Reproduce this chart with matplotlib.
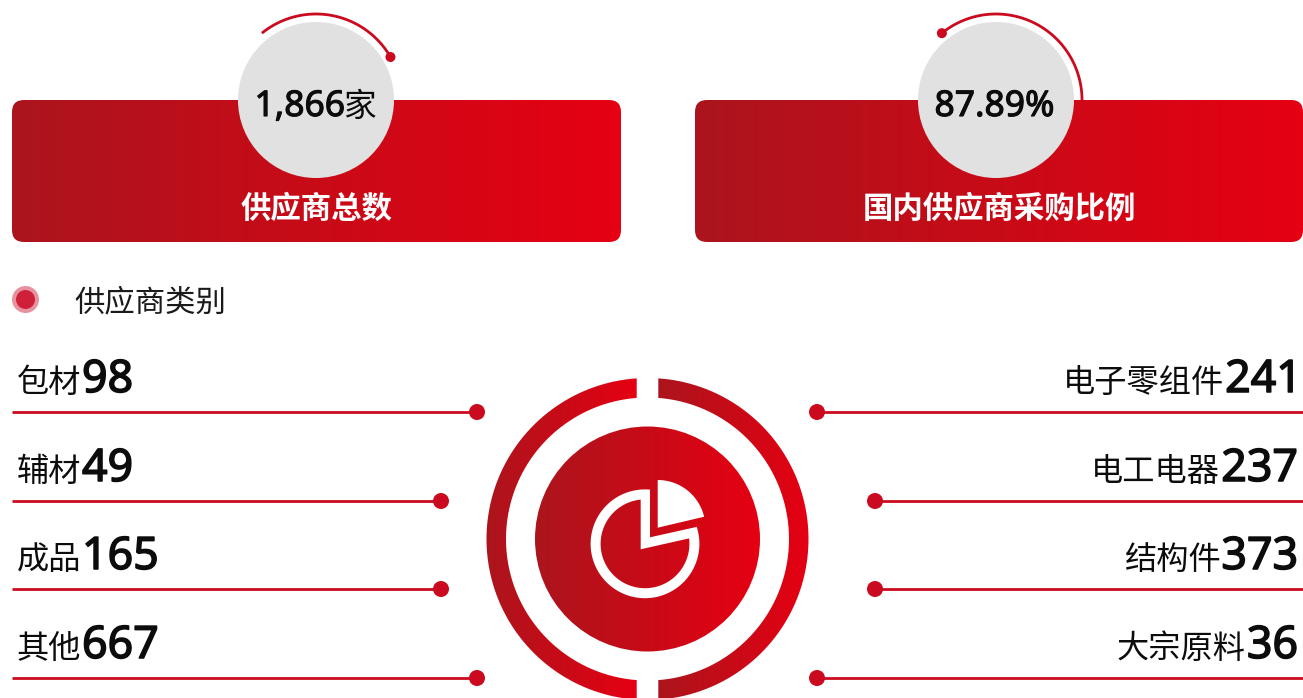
import numpy as np
import matplotlib
matplotlib.use("Agg")
import matplotlib.pyplot as plt
import matplotlib.patheffects as pe
from matplotlib.colors import LinearSegmentedColormap
from matplotlib.patches import FancyBboxPatch, Circle, PathPatch
from matplotlib.path import Path

# ---- data ----
kpi_values = ["1,866", "87.89%"]
kpi_units = ["家", ""]
kpi_titles = ["供应商总数", "国内供应商采购比例"]
section_title = "供应商类别"
left_labels = ["包材", "辅材", "成品", "其他"]
left_values = [98, 49, 165, 667]
right_labels = ["电子零组件", "电工电器", "结构件", "大宗原料"]
right_values = [241, 237, 373, 36]

# ---- style ----
W, H = 1303, 698
CJK = ["Noto Sans CJK SC", "DejaVu Sans"]
NUM = ["Noto Sans", "Noto Sans CJK SC"]
RED = "#cb0a1f"
TXT = "#0c0c0c"
cmap = LinearSegmentedColormap.from_list("r", ["#ab151d", "#e60012"])
grad = np.linspace(0, 1, 256).reshape(1, -1)
bold_num = [pe.withStroke(linewidth=1.1, foreground=TXT)]
medium_num = [pe.withStroke(linewidth=0.8, foreground=TXT)]

fig = plt.figure(figsize=(W / 100, H / 100), dpi=100)
ax = fig.add_axes([0, 0, 1, 1])
ax.axis("off")


def gradient(patch, x0, x1, y0, y1):
    im = ax.imshow(grad, cmap=cmap, extent=(x0 - 1.5, x1 + 1.5, y1 + 1.5, y0 - 1.5),
                   aspect="auto", zorder=2, interpolation="bilinear")
    patch.set_transform(ax.transData)
    im.set_clip_path(patch)


def arc_pts(cx, cy, r, a0, a1, n=90):
    t = np.radians(np.linspace(a0, a1, n))
    return np.column_stack([cx + r * np.cos(t), cy - r * np.sin(t)])


# KPI cards
cards = [(12, 621, 316, 129, 30, 317), (695, 1303, 996, 129, 0, 999.5)]
for i, (x0, x1, cx, a_hi, a_lo, tx) in enumerate(cards):
    rad = 12
    box = FancyBboxPatch((x0 + rad, 100 + rad), x1 - x0 - 2 * rad, 142 - 2 * rad,
                         boxstyle=f"round,pad={rad},rounding_size={rad}", linewidth=0)
    gradient(box, x0, x1, 100, 242)
    ax.add_patch(Circle((cx, 100), 78, fc="#e1e1e1", ec="none", zorder=3))
    p = arc_pts(cx, 100, 86, a_hi, a_lo)
    ax.plot(p[:, 0], p[:, 1], color=RED, lw=2.0, zorder=3, solid_capstyle="butt")
    dot_angle = a_lo if i == 0 else a_hi
    d = arc_pts(cx, 100, 86, dot_angle, dot_angle, 1)[0]
    ax.add_patch(Circle(d, 5, fc=RED, ec="none", zorder=4))
    ax.text(tx, 209, kpi_titles[i], color="white", fontsize=21.9, fontweight="bold",
            family=CJK, ha="center", va="center", zorder=4)

# section title
ax.add_patch(Circle((25.5, 299.5), 13.5, fc="#e8929f", ec="none", zorder=3))
ax.add_patch(Circle((25.5, 299.5), 9.5, fc="#cf2039", ec="none", zorder=4))
ax.text(74, 311, section_title, fontsize=21.9, family=CJK, color="#1a1a1a", va="baseline", zorder=4)

# leader lines
rows_y = [412, 501, 589, 678]
left_dots = [477, 441, 441, 477]
right_dots = [817, 875, 875, 817]
right_anchor = [1302, 1298, 1298, 1298]
for y, lx, rx in zip(rows_y, left_dots, right_dots):
    ax.plot([12, lx], [y, y], color=RED, lw=2.0, zorder=3, solid_capstyle="butt")
    ax.plot([rx, 1303], [y, y], color=RED, lw=2.0, zorder=3, solid_capstyle="butt")
    ax.add_patch(Circle((lx, y), 8, fc=RED, ec="none", zorder=4))
    ax.add_patch(Circle((rx, y), 8, fc=RED, ec="none", zorder=4))

# central graphic
CX, CY = 647.5, 539
R0, R1 = 141.5, 161
gap = 10.8
for side in (-1, 1):
    a_o = np.degrees(np.arccos(gap / R1))
    a_i = np.degrees(np.arccos(gap / R0))
    if side == 1:
        outer = arc_pts(CX, CY, R1, a_o, -a_o)
        inner = arc_pts(CX, CY, R0, -a_i, a_i)
        xr = (CX + gap, CX + R1)
    else:
        outer = arc_pts(CX, CY, R1, 180 - a_o, 180 + a_o)
        inner = arc_pts(CX, CY, R0, 180 + a_i, 180 - a_i)
        xr = (CX - R1, CX - gap)
    v = np.vstack([outer, inner, outer[:1]])
    codes = [Path.MOVETO] + [Path.LINETO] * (len(v) - 2) + [Path.CLOSEPOLY]
    gradient(PathPatch(Path(v, codes), lw=0), xr[0], xr[1], CY - R1, CY + R1)

disc = Circle((CX, CY), 112.5, lw=0)
gradient(disc, CX - 112.5, CX + 112.5, CY - 112.5, CY + 112.5)

# pie icon: detached wedge
wa, wb = (657.7, 527.7), 47.7
p = arc_pts(wa[0], wa[1], wb, 90, 13.3, 40)
v = np.vstack([[wa], p, [wa]])
ax.add_patch(PathPatch(Path(v, [Path.MOVETO] + [Path.LINETO] * (len(v) - 2) + [Path.CLOSEPOLY]),
                       fc="white", ec="none", zorder=5))
# pie icon: ring body
oc = (645, 543.8)
o = arc_pts(oc[0], oc[1], 54.4, 84.7, 378.1, 120)
vo = np.vstack([o, [[650, 537.3]], o[:1]])
i_ = arc_pts(oc[0], oc[1], 44.4, 367, 95.6, 120)
vi = np.vstack([[[640.7, 549.3]], i_, [[640.7, 549.3]]])
verts = np.vstack([vo, vi])
codes = ([Path.MOVETO] + [Path.LINETO] * (len(vo) - 2) + [Path.CLOSEPOLY] +
         [Path.MOVETO] + [Path.LINETO] * (len(vi) - 2) + [Path.CLOSEPOLY])
ax.add_patch(PathPatch(Path(verts, codes), fc="white", ec="none", zorder=5))

ax.set_xlim(0, W)
ax.set_ylim(H, 0)

# composite text helpers
renderer = fig.canvas.get_renderer()
inv = ax.transData.inverted()


def width(t):
    bb = t.get_window_extent(renderer)
    return abs(inv.transform((bb.x1, 0))[0] - inv.transform((bb.x0, 0))[0])


LAB = 23.2
VAL = 32.2
for y, lab, val in zip(rows_y, left_labels, left_values):
    t = ax.text(17, y - 20, lab, fontsize=LAB, family=CJK, color=TXT, va="baseline", zorder=5)
    ax.text(17 + width(t) + 0.5, y - 20, str(val), fontsize=VAL, family=NUM, color=TXT,
            va="baseline", zorder=5, path_effects=bold_num)
for y, lab, val, xa in zip(rows_y, right_labels, right_values, right_anchor):
    t = ax.text(xa, y - 20, str(val), fontsize=VAL, family=NUM, color=TXT,
                va="baseline", ha="right", zorder=5, path_effects=bold_num)
    ax.text(xa - width(t) - 1, y - 20, lab, fontsize=LAB, family=CJK, color=TXT,
            va="baseline", ha="right", zorder=5)

# KPI values
ax.text(345, 116, kpi_values[0], fontsize=25.5, family=NUM, color=TXT, va="baseline",
        ha="right", zorder=5, path_effects=medium_num)
ax.text(343.5, 116, kpi_units[0], fontsize=23.5, family=CJK, color=TXT, va="baseline", zorder=5)
ax.text(994.5, 116, kpi_values[1], fontsize=25.5, family=NUM, color=TXT, va="baseline",
        ha="center", zorder=5, path_effects=medium_num)

fig.savefig("out.png", dpi=100)
